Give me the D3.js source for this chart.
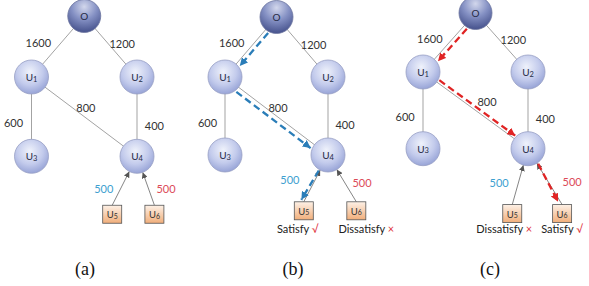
<!DOCTYPE html>
<html>
<head>
<meta charset="utf-8">
<script src="https://cdn.jsdelivr.net/npm/d3@7"></script>
<style>
  body { margin: 0; background: #fff; }
  svg { display: block; }
</style>
</head>
<body>
<svg id="chart"></svg>
<script>
// data
const panelNames = ["(a)", "(b)", "(c)"];

const nodeIds = ["O", "U1", "U2", "U3", "U4"];
const nodeCol = [1, 0, 2, 0, 2];
const nodeRow = [0, 1, 1, 2.3, 2.3];

const edgeFrom = ["O", "O", "U1", "U1", "U2"];
const edgeTo = ["U1", "U2", "U3", "U4", "U4"];
const edgeWeights = [1600, 1200, 600, 800, 400];
const edgeLabelCol = [0.13, 1.72, -0.34, 1.03, 2.33];
const edgeLabelRow = [0.43, 0.45, 1.75, 1.5, 1.79];

const boxIds = ["U5", "U6"];
const boxCol = [[1.53, 2.33], [1.53, 2.55], [1.7, 2.65]];
const boxRow = [3.25, 3.23, 3.4];
const demands = [500, 500];
const demandLabelCol = [[1.37, 2.55], [1.26, 2.66], [1.45, 2.84]];
const demandLabelRow = [[2.82, 2.82], [2.7, 2.75], [2.88, 2.85]];

const outcomes = [null, ["Satisfy", "Dissatisfy"], ["Dissatisfy", "Satisfy"]];
const outcomeMarks = { "Satisfy": "\u221A", "Dissatisfy": "\u00D7" };
const routes = [null, ["O", "U1", "U4", "U5"], ["O", "U1", "U4", "U6"]];

//layout
const W = 589, H = 286;
const panelX0 = [31.5, 225, 423];
const panelUx = [52.75, 51.5, 52.5];
const panelY0 = [16, 17, 13];
const panelUy = [61, 60, 59];
const panelLabelX = [85, 293, 490];
const outcomeDx = [null, [-6, 10], [-8, 0]];
const routeOffset = [null, [-4, 5, 0], [-4, -3, -2]];
const routeEndDx = [null, -9, 0];
const routeColor = [null, "#2a7db8", "#e02424"];
const label800Shift = [0, 0, 0.19];

const rU = 17, rO = 16.5, boxW = 19, boxH = 18;

const svg = d3.select("#chart").attr("width", W).attr("height", H);
const defs = svg.append("defs");

let gU = defs.append("radialGradient").attr("id", "gradU")
    .attr("cx", "45%").attr("cy", "35%").attr("r", "70%");
gU.append("stop").attr("offset", "0%").attr("stop-color", "#eff2fb");
gU.append("stop").attr("offset", "55%").attr("stop-color", "#c3cbec");
gU.append("stop").attr("offset", "100%").attr("stop-color", "#909dd3");

let gO = defs.append("radialGradient").attr("id", "gradO")
    .attr("cx", "50%").attr("cy", "22%").attr("r", "85%");
gO.append("stop").attr("offset", "0%").attr("stop-color", "#d2d7ec");
gO.append("stop").attr("offset", "45%").attr("stop-color", "#8591c4");
gO.append("stop").attr("offset", "100%").attr("stop-color", "#3a4682");

let gB = defs.append("linearGradient").attr("id", "gradB")
    .attr("x1", 0).attr("y1", 0).attr("x2", 0).attr("y2", 1);
gB.append("stop").attr("offset", "0%").attr("stop-color", "#fdf1e7");
gB.append("stop").attr("offset", "100%").attr("stop-color", "#f1ae7a");

function addMarker(id, color, size) {
    defs.append("marker").attr("id", id)
        .attr("viewBox", "0 0 10 10").attr("refX", 10).attr("refY", 5)
        .attr("markerUnits", "userSpaceOnUse")
        .attr("markerWidth", size).attr("markerHeight", size)
        .attr("orient", "auto")
        .append("path").attr("d", "M0,0 L10,5 L0,10 z").attr("fill", color);
}
addMarker("arrGray", "#555", 6);
addMarker("arrBlue", routeColor[1], 8);
addMarker("arrRed", routeColor[2], 8);

const font = "Lato, 'Open Sans', sans-serif";

panelNames.forEach(function(name, p) {
    let x = d3.scaleLinear().domain([0, 1]).range([panelX0[p], panelX0[p] + panelUx[p]]);
    let y = d3.scaleLinear().domain([0, 1]).range([panelY0[p], panelY0[p] + panelUy[p]]);
    let g = svg.append("g");

    let pos = {};
    nodeIds.forEach((id, i) => pos[id] = {x: x(nodeCol[i]), y: y(nodeRow[i]), r: id == "O" ? rO : rU, box: false});
    boxIds.forEach((id, i) => pos[id] = {x: x(boxCol[p][i]), y: y(boxRow[p]), box: true});

    // gray edges
    g.selectAll(".edge").data(edgeWeights).enter().append("line")
        .attr("x1", (d, i) => pos[edgeFrom[i]].x).attr("y1", (d, i) => pos[edgeFrom[i]].y)
        .attr("x2", (d, i) => pos[edgeTo[i]].x).attr("y2", (d, i) => pos[edgeTo[i]].y)
        .attr("stroke", "#a3a3a3").attr("stroke-width", 1);

    g.selectAll(".elabel").data(edgeWeights).enter().append("text")
        .attr("x", (d, i) => x(edgeLabelCol[i] + (d == 800 ? label800Shift[p] : 0)))
        .attr("y", (d, i) => y(edgeLabelRow[i]))
        .attr("text-anchor", "middle").attr("dominant-baseline", "central")
        .style("font-family", font).style("font-size", "11px").style("fill", "#333")
        .text(d => d);

    // demand arrows, box -> U4
    let u4 = pos["U4"];
    boxIds.forEach(function(id, i) {
        let b = pos[id];
        let sx = b.x, sy = b.y - boxH / 2;
        let dx = u4.x - sx, dy = u4.y - sy, len = Math.hypot(dx, dy);
        g.append("line")
            .attr("x1", sx).attr("y1", sy)
            .attr("x2", u4.x - dx / len * rU).attr("y2", u4.y - dy / len * rU)
            .attr("stroke", "#777").attr("stroke-width", 0.9)
            .attr("marker-end", "url(#arrGray)");
    });

    g.selectAll(".dlabel").data(demands).enter().append("text")
        .attr("x", (d, i) => x(demandLabelCol[p][i]))
        .attr("y", (d, i) => y(demandLabelRow[p][i]))
        .attr("text-anchor", "middle").attr("dominant-baseline", "central")
        .style("font-family", font).style("font-size", "11px")
        .style("fill", (d, i) => i == 0 ? "#3d9fd0" : "#dc4a58")
        .text(d => d);

    // circles
    let nodes = g.selectAll(".node").data(nodeIds).enter().append("g")
        .attr("transform", d => "translate(" + pos[d].x + "," + pos[d].y + ")");
    nodes.append("circle")
        .attr("r", d => pos[d].r)
        .attr("fill", d => d == "O" ? "url(#gradO)" : "url(#gradU)")
        .attr("stroke", d => d == "O" ? "#6d76a0" : "#98a0c4").attr("stroke-width", 0.8);
    let nt = nodes.append("text")
        .attr("text-anchor", "middle").attr("dominant-baseline", "central")
        .style("font-family", font).style("font-size", "10px").style("fill", "#262b45");
    nt.append("tspan").text(d => d.charAt(0));
    nt.append("tspan").style("font-size", "7.5px").attr("dy", 1.5).text(d => d.slice(1));

    // boxes
    let boxes = g.selectAll(".box").data(boxIds).enter().append("g")
        .attr("transform", d => "translate(" + pos[d].x + "," + pos[d].y + ")");
    boxes.append("rect")
        .attr("x", -boxW / 2).attr("y", -boxH / 2).attr("width", boxW).attr("height", boxH)
        .attr("fill", "url(#gradB)").attr("stroke", "#555").attr("stroke-width", 0.8);
    let bt = boxes.append("text")
        .attr("text-anchor", "middle").attr("dominant-baseline", "central")
        .style("font-family", font).style("font-size", "9.5px").style("fill", "#333");
    bt.append("tspan").text(d => d.charAt(0));
    bt.append("tspan").style("font-size", "7px").attr("dy", 1.5).text(d => d.slice(1));

    // route (dashed)
    if (routes[p]) {
        let r = routes[p];
        for (let k = 0; k < r.length - 1; k++) {
            let a = pos[r[k]], b = pos[r[k + 1]];
            let bx = b.box ? b.x + routeEndDx[p] : b.x;
            let dx = bx - a.x, dy = b.y - a.y, len = Math.hypot(dx, dy);
            let ux = dx / len, uy = dy / len, nx = -uy, ny = ux;
            let off = routeOffset[p][k];
            let x1 = a.x + ux * (a.r + 1) + nx * off, y1 = a.y + uy * (a.r + 1) + ny * off;
            let x2, y2;
            if (b.box) {
                let t = (b.y - boxH / 2 - 2 - a.y) / uy;
                x2 = a.x + ux * t + nx * off; y2 = a.y + uy * t + ny * off;
            } else {
                x2 = b.x - ux * (b.r + 1) + nx * off; y2 = b.y - uy * (b.r + 1) + ny * off;
            }
            g.append("line")
                .attr("x1", x1).attr("y1", y1).attr("x2", x2).attr("y2", y2)
                .attr("stroke", routeColor[p]).attr("stroke-width", 2.3)
                .attr("stroke-dasharray", "7,4")
                .attr("marker-end", p == 1 ? "url(#arrBlue)" : "url(#arrRed)");
        }
    }

    // outcome labels
    if (outcomes[p]) {
        let ot = g.selectAll(".out").data(outcomes[p]).enter().append("text")
            .attr("x", (d, i) => pos[boxIds[i]].x + outcomeDx[p][i])
            .attr("y", 233)
            .attr("text-anchor", "middle")
            .style("font-family", font).style("font-size", "11px").style("fill", "#222");
        ot.append("tspan").text(d => d + " ");
        ot.append("tspan").style("fill", "#e0303a").text(d => outcomeMarks[d]);
    }

    g.append("text")
        .attr("x", panelLabelX[p]).attr("y", 275)
        .attr("text-anchor", "middle")
        .style("font-family", "'Liberation Serif', 'Times New Roman', serif")
        .style("font-size", "18px").style("fill", "#111")
        .text(name);
});
</script>
</body>
</html>
